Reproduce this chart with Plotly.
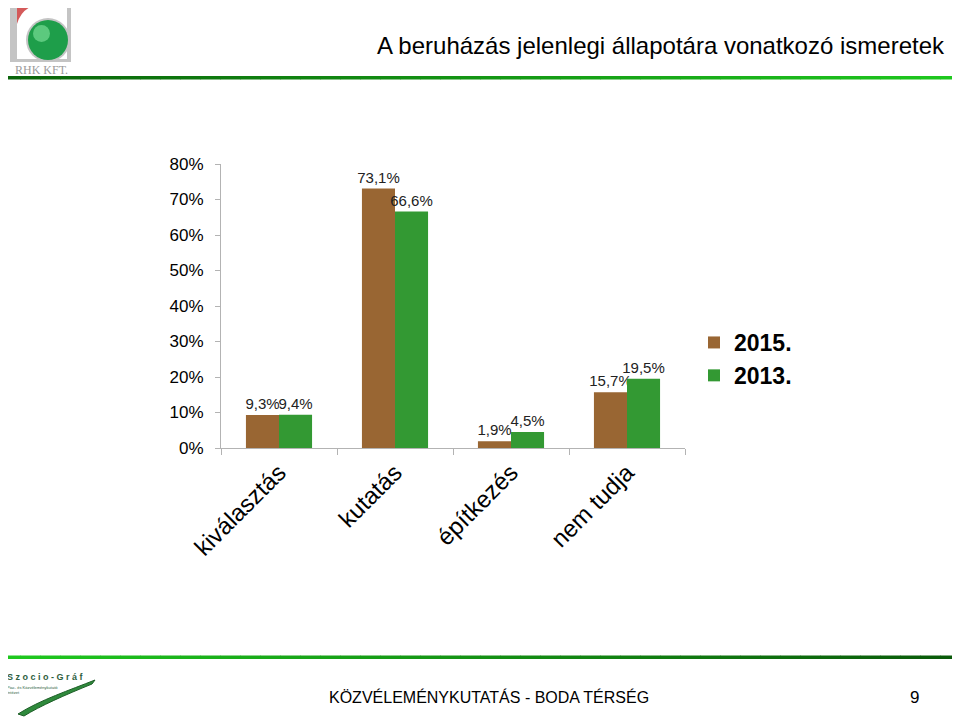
import plotly.graph_objects as go

categories = ["kiválasztás", "kutatás", "építkezés", "nem tudja"]
series_names = ["2015.", "2013."]
values_2015 = [0.093, 0.731, 0.019, 0.157]
values_2013 = [0.094, 0.666, 0.045, 0.195]
y_ticks = [0, 0.1, 0.2, 0.3, 0.4, 0.5, 0.6, 0.7, 0.8]
y_tick_labels = ["0%", "10%", "20%", "30%", "40%", "50%", "60%", "70%", "80%"]

title_text = "A beruházás jelenlegi állapotára vonatkozó ismeretek"
footer_text = "KÖZVÉLEMÉNYKUTATÁS - BODA TÉRSÉG"
page_number = "9"

BROWN = "#996633"
GREEN = "#339933"
FONT = "Arial, Liberation Sans, sans-serif"

# the page body adds an 8px offset; the figure is sized to fill the rest of the window
OFF = 8
W, H = 960 - OFF, 720 - OFF
# plot area in window pixels: x 221..685, y 164..448
PL, PR, PT, PB = 221, 685, 164, 448
L, T = PL - OFF, PT - OFF
R, B = W - (PR - OFF), H - (PB - OFF)
PW, PH = PR - PL, PB - PT


def px(x):
    return (x - PL) / PW


def py(y):
    return (PB - y) / PH


def fmt(v):
    return f"{v * 100:.1f}".replace(".", ",") + "%"


fig = go.Figure()
for name, vals, col in [(series_names[0], values_2015, BROWN), (series_names[1], values_2013, GREEN)]:
    fig.add_trace(go.Bar(
        x=categories, y=vals, name=name, marker_color=col, marker_line_width=0,
        text=[fmt(v) for v in vals], textposition="outside", cliponaxis=False,
        textfont=dict(family=FONT, size=15, color="#222222"),
        constraintext="none",
    ))

shapes = []


def lerp(c1, c2, t):
    return "#" + "".join(f"{int(round(a + (b - a) * t)):02x}" for a, b in zip(c1, c2))


# gradient header / footer rules
n = 48
for i in range(n):
    t = i / (n - 1)
    x0, x1 = i * 960 / n, (i + 1) * 960 / n + 0.5
    shapes.append(dict(type="rect", xref="paper", yref="paper", x0=px(x0), x1=px(x1),
                       y0=py(79.5), y1=py(76), fillcolor=lerp((10, 100, 10), (30, 200, 30), t),
                       line_width=0, layer="above"))
    shapes.append(dict(type="rect", xref="paper", yref="paper", x0=px(x0), x1=px(x1),
                       y0=py(659), y1=py(655.5), fillcolor=lerp((30, 200, 30), (10, 90, 10), t),
                       line_width=0, layer="above"))

# RHK logo
shapes += [
    dict(type="rect", xref="paper", yref="paper", x0=px(10), x1=px(71), y0=py(62), y1=py(2),
         fillcolor="#c4c4c4", line_width=0),
    dict(type="rect", xref="paper", yref="paper", x0=px(17), x1=px(67), y0=py(59), y1=py(6),
         fillcolor="white", line_width=0),
    dict(type="path", xref="paper", yref="paper",
         path=f"M {px(17)} {py(6)} L {px(33)} {py(6)} Q {px(21)} {py(10)} {px(17)} {py(24)} Z",
         fillcolor="#d45a5a", line_width=0),
    dict(type="circle", xref="paper", yref="paper", x0=px(26), x1=px(70), y0=py(62), y1=py(18),
         fillcolor="#c4c4c4", line_width=0),
    dict(type="circle", xref="paper", yref="paper", x0=px(28), x1=px(68), y0=py(60), y1=py(20),
         fillcolor="#1e9e4a", line_width=0),
    dict(type="circle", xref="paper", yref="paper", x0=px(33), x1=px(50), y0=py(42), y1=py(25),
         fillcolor="#5cc97e", line_width=0),
    # Szocio-Graf swoosh
    dict(type="path", xref="paper", yref="paper",
         path=(f"M {px(18)} {py(714)} C {px(40)} {py(700)} {px(70)} {py(690)} {px(95)} {py(680)} "
               f"L {px(92)} {py(684)} C {px(65)} {py(695)} {px(40)} {py(706)} {px(24)} {py(716)} Z"),
         fillcolor="#2f8a3c", line=dict(color="#1d5e27", width=1)),
]

annotations = [
    dict(text=title_text, xref="paper", yref="paper", x=px(375), y=py(45), xanchor="left",
         yanchor="middle", showarrow=False, font=dict(family=FONT, size=24, color="black")),
    dict(text="RHK KFT.", xref="paper", yref="paper", x=px(41), y=py(70), xanchor="center",
         yanchor="middle", showarrow=False,
         font=dict(family="Liberation Serif, serif", size=12, color="#9a9a9a")),
    dict(text="<b>S z o c i o - G r á f</b>", xref="paper", yref="paper", x=px(5), y=py(677),
         xanchor="left", yanchor="middle", showarrow=False,
         font=dict(family=FONT, size=9, color="#2e5e3e")),
    dict(text="Piac- és Közvéleménykutató<br>Intézet", xref="paper", yref="paper", x=px(5), y=py(690),
         xanchor="left", yanchor="middle", showarrow=False, align="left",
         font=dict(family=FONT, size=4, color="#2e5e3e")),
    dict(text=footer_text, xref="paper", yref="paper", x=px(489), y=py(697), xanchor="center",
         yanchor="middle", showarrow=False,
         font=dict(family=FONT, size=16, color="black")),
    dict(text=page_number, xref="paper", yref="paper", x=px(914), y=py(697), xanchor="center",
         yanchor="middle", showarrow=False, font=dict(family=FONT, size=17, color="black")),
]

fig.update_layout(
    width=W, height=H, margin=dict(l=L, r=R, t=T, b=B, autoexpand=False),
    paper_bgcolor="white", plot_bgcolor="white",
    barmode="group", bargap=0.43, bargroupgap=0,
    font=dict(family=FONT, color="black"),
    showlegend=True,
    legend=dict(x=px(694), y=py(359), xanchor="left", yanchor="middle",
                font=dict(family=FONT, size=23, color="black", weight="bold"),
                bgcolor="rgba(0,0,0,0)", traceorder="normal"),
    shapes=shapes, annotations=annotations,
)
fig.update_xaxes(
    type="category", tickangle=-45, tickfont=dict(family=FONT, size=24, color="black"),
    showline=True, linecolor="#b3b3b3", linewidth=1, ticks="outside", tickson="boundaries",
    ticklen=6, tickcolor="#b3b3b3", showgrid=False, zeroline=False,
)
fig.update_yaxes(
    range=[0, 0.8], tickvals=y_ticks, ticktext=y_tick_labels,
    tickfont=dict(family=FONT, size=17, color="black"), ticklabelstandoff=8,
    showline=True, linecolor="#b3b3b3", linewidth=1, ticks="outside", ticklen=5,
    tickcolor="#b3b3b3", showgrid=False, zeroline=False,
)

fig.write_html("out.html")
